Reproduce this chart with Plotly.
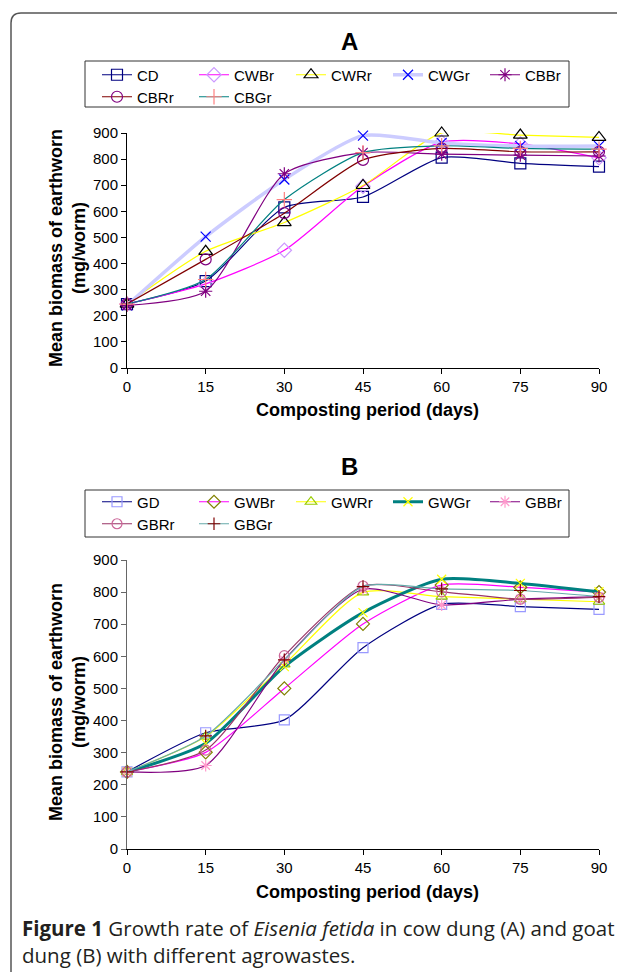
import plotly.graph_objects as go

# The page body adds an 8px margin; the figure is sized/placed to compensate.
OFF = 8
W, H = 625 - OFF, 972 - OFF

days = [0, 15, 30, 45, 60, 75, 90]
x_ticks = [0, 15, 30, 45, 60, 75, 90]
y_ticks = [0, 100, 200, 300, 400, 500, 600, 700, 800, 900]

# Panel A (cow dung)
names_a = ["CD", "CWBr", "CWRr", "CWGr", "CBBr", "CBRr", "CBGr"]
CD = [245, 333, 615, 655, 806, 784, 771]
CWBr = [245, 322, 451, 696, 865, 858, 805]
CWRr = [245, 447, 557, 699, 900, 892, 883]
CWGr = [240, 503, 722, 890, 862, 850, 850]
CBBr = [240, 294, 744, 825, 819, 815, 812]
CBRr = [245, 416, 593, 797, 841, 828, 828]
CBGr = [245, 339, 645, 825, 851, 841, 838]
values_a = [CD, CWBr, CWRr, CWGr, CBBr, CBRr, CBGr]

# Panel B (goat dung)
names_b = ["GD", "GWBr", "GWRr", "GWGr", "GBBr", "GBRr", "GBGr"]
GD = [240, 362, 402, 627, 762, 755, 746]
GWBr = [240, 301, 500, 701, 822, 815, 800]
GWRr = [240, 350, 575, 799, 786, 778, 770]
GWGr = [240, 329, 568, 736, 840, 827, 801]
GBBr = [240, 260, 589, 809, 760, 778, 786]
GBRr = [240, 308, 602, 819, 801, 778, 784]
GBGr = [240, 352, 589, 817, 810, 805, 786]
values_b = [GD, GWBr, GWRr, GWGr, GBBr, GBRr, GBGr]

style_a = [
    dict(lc="#000080", lw=1.2, mc="#000080", sym="square-open", ms=11),
    dict(lc="#FF00FF", lw=1.2, mc="#CC99FF", sym="diamond-open", ms=11),
    dict(lc="#FFFF00", lw=1.2, mc="#000000", sym="triangle-up-open", ms=12),
    dict(lc="#CCCCFF", lw=3.5, mc="#0000FF", sym="x-thin-open", ms=10),
    dict(lc="#800080", lw=1.2, mc="#800080", sym="asterisk-open", ms=11),
    dict(lc="#800000", lw=1.2, mc="#800080", sym="circle-open", ms=11),
    dict(lc="#008080", lw=1.2, mc="#FF8080", sym="cross-thin-open", ms=11),
]
style_b = [
    dict(lc="#000080", lw=1.2, mc="#9999FF", sym="square-open", ms=10),
    dict(lc="#FF00FF", lw=1.2, mc="#808000", sym="diamond-open", ms=10),
    dict(lc="#FFFF00", lw=1.2, mc="#99CC00", sym="triangle-up-open", ms=10),
    dict(lc="#008080", lw=3, mc="#FFFF00", sym="x-thin-open", ms=9),
    dict(lc="#800080", lw=1.2, mc="#FF99CC", sym="asterisk-open", ms=10),
    dict(lc="#993366", lw=1.2, mc="#CC6699", sym="circle-open", ms=10),
    dict(lc="#66AAAA", lw=1.2, mc="#800000", sym="cross-thin-open", ms=9),
]

# legend rows: first five entries in row 1, the rest in row 2
legend_ids_a = ["legend", "legend", "legend", "legend", "legend", "legend3", "legend3"]
legend_ids_b = ["legend2", "legend2", "legend2", "legend2", "legend2", "legend4", "legend4"]

SMOOTH = 0.65
fig = go.Figure()

for name, vals, st, lg in zip(names_a, values_a, style_a, legend_ids_a):
    fig.add_trace(go.Scatter(
        x=days, y=vals, name=name, mode="lines+markers",
        line=dict(color=st["lc"], width=st["lw"], shape="spline", smoothing=SMOOTH),
        marker=dict(symbol=st["sym"], size=st["ms"], color=st["mc"],
                    line=dict(color=st["mc"], width=1.2)),
        xaxis="x", yaxis="y", legend=lg, cliponaxis=False))

for name, vals, st, lg in zip(names_b, values_b, style_b, legend_ids_b):
    fig.add_trace(go.Scatter(
        x=days, y=vals, name=name, mode="lines+markers",
        line=dict(color=st["lc"], width=st["lw"], shape="spline", smoothing=SMOOTH),
        marker=dict(symbol=st["sym"], size=st["ms"], color=st["mc"],
                    line=dict(color=st["mc"], width=1.2)),
        xaxis="x2", yaxis="y2", legend=lg, cliponaxis=False))

def px_x(p):
    return (p - OFF) / W

def px_y(p):
    return 1 - (p - OFF) / H

FONT = "Arial, Liberation Sans, sans-serif"
tick_font = dict(family=FONT, size=15, color="#000")
xdom = [px_x(127), px_x(599)]

common_x = dict(range=[0, 90], tickvals=x_ticks, showline=True, linewidth=1,
                ticks="outside", ticklen=5, tickwidth=1, showgrid=False,
                zeroline=False, tickfont=tick_font, fixedrange=True, automargin=False)
common_y = dict(range=[0, 900], tickvals=y_ticks, showline=True, linewidth=1,
                ticks="outside", ticklen=5, tickwidth=1, showgrid=False,
                zeroline=False, tickfont=tick_font, fixedrange=True, automargin=False)

legend_common = dict(orientation="h", xanchor="left", yanchor="middle",
                     borderwidth=0, bgcolor="rgba(0,0,0,0)",
                     font=dict(family=FONT, size=15, color="#000"),
                     entrywidth=52, entrywidthmode="pixels", traceorder="normal",
                     itemclick=False, itemdoubleclick=False)

LEG_X = px_x(97)
fig.update_layout(
    width=W, height=H,
    margin=dict(l=0, r=0, t=0, b=0, pad=0, autoexpand=False),
    paper_bgcolor="white", plot_bgcolor="white",
    showlegend=True,
    xaxis=dict(domain=xdom, anchor="y", linecolor="#000", tickcolor="#000", **common_x),
    yaxis=dict(domain=[px_y(368), px_y(133)], anchor="x", linecolor="#000", tickcolor="#000", **common_y),
    xaxis2=dict(domain=xdom, anchor="y2", linecolor="#000", tickcolor="#000", **common_x),
    yaxis2=dict(domain=[px_y(849), px_y(560)], anchor="x2", linecolor="#666", tickcolor="#666", **common_y),
    legend=dict(x=LEG_X, y=px_y(75), **legend_common),
    legend3=dict(x=LEG_X, y=px_y(97), **legend_common),
    legend2=dict(x=LEG_X, y=px_y(502), **legend_common),
    legend4=dict(x=LEG_X, y=px_y(524), **legend_common),
)

bold_font = dict(family=FONT, size=18, color="#000")
annotations = [
    dict(text="<b>A</b>", x=px_x(350), y=px_y(42), font=dict(family=FONT, size=24, color="#000")),
    dict(text="<b>B</b>", x=px_x(350), y=px_y(466), font=dict(family=FONT, size=24, color="#000")),
    dict(text="<b>Composting period (days)</b>", x=px_x(368), y=px_y(410), font=bold_font),
    dict(text="<b>Composting period (days)</b>", x=px_x(368), y=px_y(892), font=bold_font),
    dict(text="<b>Mean biomass of earthworn<br>(mg/worm)</b>", x=px_x(67), y=px_y(248), textangle=-90, font=bold_font),
    dict(text="<b>Mean biomass of earthworn<br>(mg/worm)</b>", x=px_x(67), y=px_y(702), textangle=-90, font=bold_font),
    dict(text="<b>Figure 1</b> Growth rate of <i>Eisenia fetida</i> in cow dung (A) and goat<br>dung (B) with different agrowastes.",
         x=px_x(20), y=px_y(941), xanchor="left", align="left",
         font=dict(family="Open Sans, Noto Sans, sans-serif", size=20.5, color="#231f20")),
]
for a in annotations:
    a.setdefault("xanchor", "center")
    a.setdefault("yanchor", "middle")
    a["xref"] = "paper"
    a["yref"] = "paper"
    a["showarrow"] = False
fig.update_layout(annotations=annotations)

# legend boxes
for top, bottom in [(61, 107), (490, 537)]:
    fig.add_shape(type="rect", xref="paper", yref="paper",
                  x0=px_x(85), x1=px_x(569), y0=px_y(bottom), y1=px_y(top),
                  line=dict(color="#333", width=1), fillcolor="rgba(0,0,0,0)", layer="below")

# frame with rounded top-left corner
x0 = px_x(11)
yt = px_y(13)
rx = 10 / W
ry = 10 / H
path = f"M {x0},0 L {x0},{yt - ry} Q {x0},{yt} {x0 + rx},{yt} L 1,{yt}"
fig.add_shape(type="path", path=path, xref="paper", yref="paper",
              line=dict(color="#555", width=1.5))

fig.write_html("out.html")
